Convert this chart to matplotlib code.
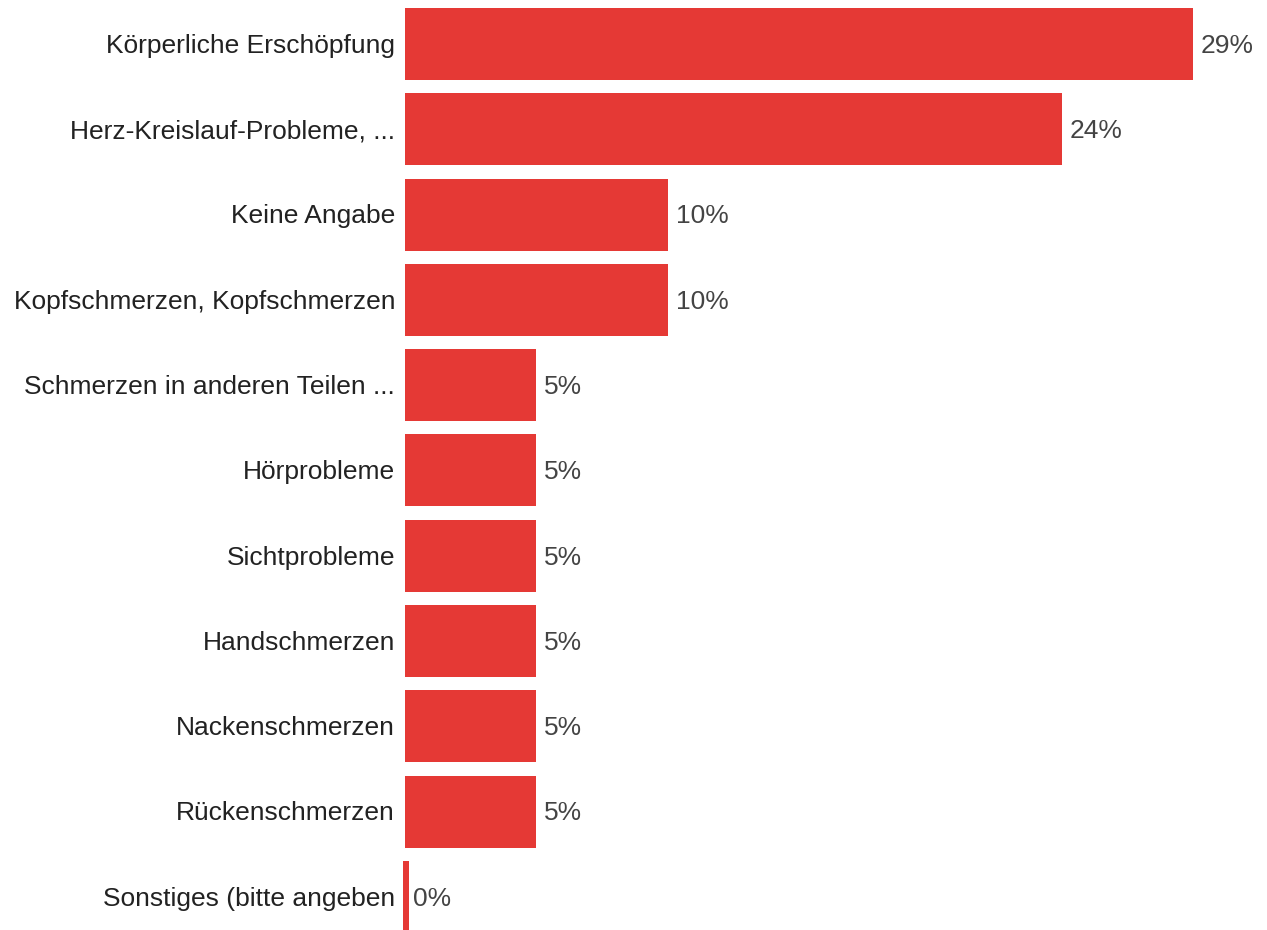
import numpy as np
import matplotlib.pyplot as plt

plt.rcParams['font.family'] = ['Liberation Sans', 'DejaVu Sans']

categories = [
    "Körperliche Erschöpfung",
    "Herz-Kreislauf-Probleme, ...",
    "Keine Angabe",
    "Kopfschmerzen, Kopfschmerzen",
    "Schmerzen in anderen Teilen ...",
    "Hörprobleme",
    "Sichtprobleme",
    "Handschmerzen",
    "Nackenschmerzen",
    "Rückenschmerzen",
    "Sonstiges (bitte angeben",
]
counts = [6, 5, 2, 2, 1, 1, 1, 1, 1, 1, 0]
total = 21
values = np.array(counts) / total
labels = ["29%", "24%", "10%", "10%", "5%", "5%", "5%", "5%", "5%", "5%", "0%"]

W, H = 1267, 930
fig = plt.figure(figsize=(W / 100, H / 100), dpi=100)
ax = fig.add_axes([405 / W, 0, (1193 - 405) / W, 1])

xmax = values.max()
px = xmax / (1193 - 405)  # data units per pixel
pitch = 85.3
y = np.arange(len(categories))

# zero values get a thin stub bar
stub = values == 0
widths = np.where(stub, 6 * px, values)
lefts = np.where(stub, -2 * px, 0)

bars = ax.barh(y, widths, left=lefts, height=72 / pitch, color="#e53935")
for b in bars:
    b.set_clip_on(False)

for yi, w, l, lab, cat in zip(y, widths, lefts, labels, categories):
    gap = 4 if w < 10 * px else 8
    ax.text(l + w + gap * px, yi + 0.02, lab, va="center", ha="left",
            fontsize=19, color="#444444", clip_on=False)
    ax.text(-10 * px, yi + 0.02, cat, va="center", ha="right",
            fontsize=19, color="#222222", clip_on=False)

ax.set_xlim(0, xmax)
ax.set_ylim((930 - 44) / pitch, -44 / pitch)
ax.axis("off")

fig.savefig("out.png", dpi=100)
